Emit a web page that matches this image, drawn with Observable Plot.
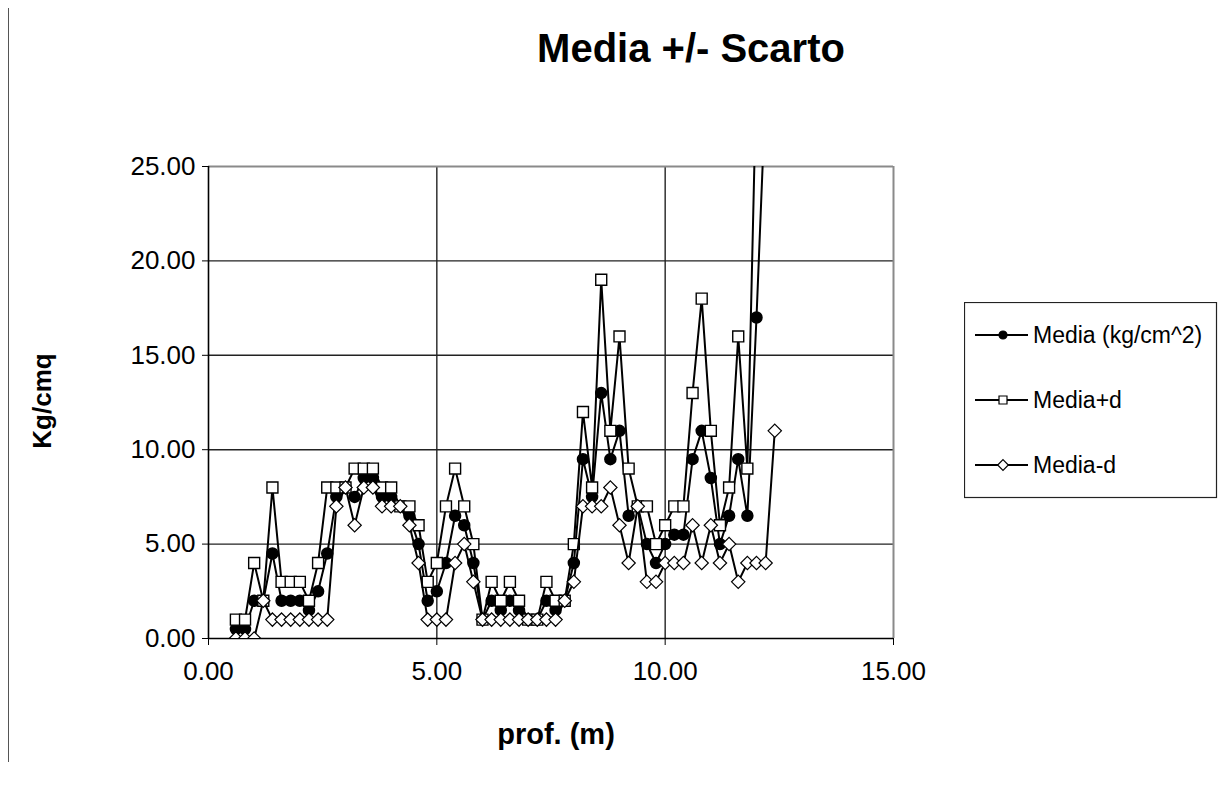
<!DOCTYPE html>
<html><head><meta charset="utf-8">
<script src="https://cdn.jsdelivr.net/npm/d3@7"></script>
<script src="https://cdn.jsdelivr.net/npm/@observablehq/plot@0.6"></script>
<style>
body{margin:0;background:#fff;font-family:"Liberation Sans",Arial,sans-serif;color:#000;}
#wrap{position:relative;width:1229px;height:789px;overflow:hidden;background:#fff;}
#chart{position:absolute;left:0;top:0;}
#title{position:absolute;left:441px;width:500px;top:26px;text-align:center;font-weight:bold;font-size:40px;line-height:44px;}
#ylab{position:absolute;left:42px;top:401px;transform:translate(-50%,-50%) rotate(-90deg);font-weight:bold;font-size:26px;white-space:nowrap;}
#xlab{position:absolute;left:556px;top:734px;transform:translate(-50%,-50%);font-weight:bold;font-size:29px;white-space:nowrap;}
#border{position:absolute;left:8px;top:8px;width:1px;height:754px;background:#555;}
#legend{position:absolute;left:964px;top:302px;}
</style></head>
<body><div id="wrap">
<div id="border"></div>
<div id="title">Media +/- Scarto</div>
<div id="chart"></div>
<div id="ylab">Kg/cmq</div>
<div id="xlab">prof. (m)</div>
<div id="legend"></div>
</div>
<script>
const depth = [0.6,0.8,1.0,1.2,1.4,1.6,1.8,2.0,2.2,2.4,2.6,2.8,3.0,3.2,3.4,3.6,3.8,4.0,4.2,4.4,4.6,4.8,5.0,5.2,5.4,5.6,5.8,6.0,6.2,6.4,6.6,6.8,7.0,7.2,7.4,7.6,7.8,8.0,8.2,8.4,8.6,8.8,9.0,9.2,9.4,9.6,9.8,10.0,10.2,10.4,10.6,10.8,11.0,11.2,11.4,11.6,11.8,12.0,12.2,12.4];
const media = [0.5,0.5,2,2,4.5,2,2,2,1.5,2.5,4.5,7.5,8,7.5,8.5,8.5,7.5,7.5,7,6.5,5,2,2.5,4,6.5,6,4,1,2,1.5,2,1.5,1,1,2,1.5,2,4,9.5,7.5,13,9.5,11,6.5,7,5,4,5,5.5,5.5,9.5,11,8.5,5,6.5,9.5,6.5,17,29,35];
const mediaPlus = [1,1,4,2,8,3,3,3,2,4,8,8,8,9,9,9,8,8,7,7,6,3,4,7,9,7,5,1,3,2,3,2,1,1,3,2,2,5,12,8,19,11,16,9,7,7,5,6,7,7,13,18,11,6,8,16,9,30,54,59];
const mediaMinus = [0,0,0,2,1,1,1,1,1,1,1,7,8,6,8,8,7,7,7,6,4,1,1,1,4,5,3,1,1,1,1,1,1,1,1,1,2,3,7,7,7,8,6,4,7,3,3,4,4,4,6,4,6,4,5,3,4,4,4,11];
const seriesNames = ["Media (kg/cm^2)","Media+d","Media-d"];
const xTicks = [0,5,10,15];
const yTicks = [0,5,10,15,20,25];

const rows = depth.map((d,i)=>({depth:d, media:media[i], plus:mediaPlus[i], minus:mediaMinus[i]}));
const fmt = d => d.toFixed(2);
const lw = 2;

const chart = Plot.plot({
  width:1229, height:789,
  marginLeft:208, marginRight:336, marginTop:166, marginBottom:151,
  x:{domain:[0,15]},
  y:{domain:[0,25]},
  style:{fontFamily:"'Liberation Sans', Arial, sans-serif", fontSize:"26px", color:"#000", background:"transparent", overflow:"visible"},
  marks:[
    Plot.ruleY(yTicks.filter(v=>v>0 && v<25), {stroke:"#222", strokeWidth:1.4}),
    Plot.ruleX(xTicks.filter(v=>v>0 && v<15), {stroke:"#222", strokeWidth:1.4}),
    Plot.ruleY([25], {stroke:"#8a8a8a", strokeWidth:2}),
    Plot.ruleX([15], {stroke:"#8a8a8a", strokeWidth:2}),
    Plot.ruleX([0], {stroke:"#000", strokeWidth:1.6}),
    Plot.ruleY([0], {stroke:"#000", strokeWidth:1.6}),
    Plot.axisX({ticks:xTicks, tickFormat:fmt, tickSize:7, tickPadding:16, label:null, stroke:"#000"}),
    Plot.axisY({ticks:yTicks, tickFormat:fmt, tickSize:6, tickPadding:7, label:null, stroke:"#000"}),
    Plot.line(rows, {x:"depth", y:"media", stroke:"#000", strokeWidth:lw, clip:true}),
    Plot.dot(rows, {x:"depth", y:"media", symbol:"circle", r:5.5, fill:"#000", stroke:"#000", clip:true}),
    Plot.line(rows, {x:"depth", y:"plus", stroke:"#000", strokeWidth:lw, clip:true}),
    Plot.dot(rows, {x:"depth", y:"plus", symbol:"square", r:6.2, fill:"#fff", stroke:"#000", strokeWidth:1.4, clip:true}),
    Plot.line(rows, {x:"depth", y:"minus", stroke:"#000", strokeWidth:lw, clip:true}),
    Plot.dot(rows, {x:"depth", y:"minus", symbol:"diamond2", r:6, fill:"#fff", stroke:"#000", strokeWidth:1.2, clip:true})
  ]
});
document.getElementById("chart").appendChild(chart);

// legend
const lg = d3.select("#legend").append("svg").attr("width",254).attr("height",197);
lg.append("rect").attr("x",0.5).attr("y",0.5).attr("width",252).attr("height",195).attr("fill","#fff").attr("stroke","#222").attr("stroke-width",1.2);
const ry = [33,98,163];
const syms = [d3.symbolCircle, d3.symbolSquare, d3.symbolDiamond2];
const sizes = [50,64,72];
seriesNames.forEach((name,i)=>{
  const g = lg.append("g");
  g.append("line").attr("x1",11).attr("x2",64).attr("y1",ry[i]).attr("y2",ry[i]).attr("stroke","#000").attr("stroke-width",2);
  g.append("path").attr("d", d3.symbol(syms[i], sizes[i])()).attr("transform",`translate(39,${ry[i]})`)
    .attr("fill", i===0?"#000":"#fff").attr("stroke","#000").attr("stroke-width",1.2);
  g.append("text").attr("x",69).attr("y",ry[i]).attr("dy","0.36em").attr("font-size",23)
    .attr("font-family","'Liberation Sans', Arial, sans-serif").text(name);
});
</script>
</body></html>
